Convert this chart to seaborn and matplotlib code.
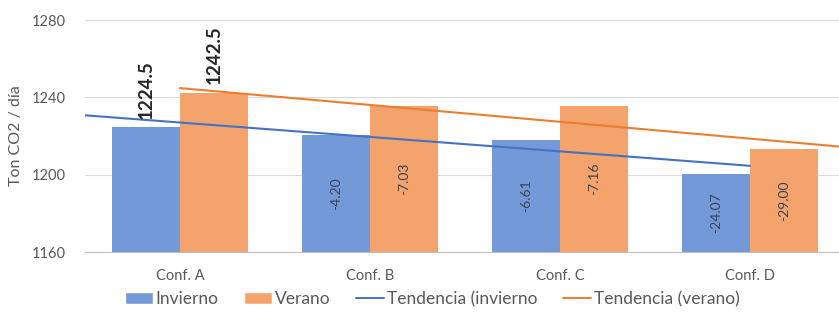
import numpy as np
import pandas as pd
import matplotlib
matplotlib.use('Agg')
import matplotlib.pyplot as plt
import seaborn as sns
from matplotlib.patches import Patch
from matplotlib.lines import Line2D

sns.set_style("white")
plt.rcParams['font.family'] = ['Lato', 'DejaVu Sans']

# data
categorias = ['Conf. A', 'Conf. B', 'Conf. C', 'Conf. D']
invierno = [1224.5, 1220.3, 1217.89, 1200.43]
verano = [1242.5, 1235.47, 1235.34, 1213.5]
etiq_invierno = ['1224.5', '-4.20', '-6.61', '-24.07']
etiq_verano = ['1242.5', '-7.03', '-7.16', '-29.00']
series = ['Invierno', 'Verano']
leyenda_tend = ['Tendencia (invierno', 'Tendencia (verano)']

col_bar = ['#7499D8', '#F4A36C']
col_line = ['#4472C4', '#ED7D31']
gris = '#595959'

df = pd.DataFrame({
    'Conf': categorias * 2,
    'Valor': invierno + verano,
    'Serie': [series[0]] * 4 + [series[1]] * 4,
})

fig = plt.figure(figsize=(8.39, 3.2), dpi=100)
ax = fig.add_axes([85 / 839, 68 / 320, 760 / 839, 232 / 320])

sns.barplot(data=df, x='Conf', y='Valor', hue='Serie', palette=col_bar,
            width=0.72, saturation=1, ax=ax, legend=False, zorder=2,
            linewidth=0, edgecolor='none')

ax.set_ylim(1160, 1280)
ax.set_xlim(-0.5, 3.5)
ax.set_yticks([1160, 1200, 1240, 1280])
ax.yaxis.grid(True, color='#d9d9d9', linewidth=0.8, zorder=0)
ax.set_axisbelow(True)
for s in ['top', 'right', 'left']:
    ax.spines[s].set_visible(False)
ax.spines['bottom'].set_color('#bfbfbf')
ax.spines['bottom'].set_zorder(3)
ax.tick_params(axis='both', length=0, colors=gris, labelsize=10.5)
ax.tick_params(axis='x', pad=12)
ax.tick_params(axis='y', pad=14)
ax.set_xlabel('')
ax.set_ylabel('Ton CO2 / día', color=gris, fontsize=11.5, labelpad=6)

# bar labels
for cont, etiq in zip(ax.containers, [etiq_invierno, etiq_verano]):
    for i, (bar, txt) in enumerate(zip(cont, etiq)):
        xc = bar.get_x() + bar.get_width() / 2
        h = bar.get_height()
        if i == 0:
            ax.text(xc, h + 4.5, txt, rotation=90, ha='center', va='bottom',
                    fontsize=13.5, fontweight='bold', color='#262626', zorder=5)
        else:
            ax.text(xc, (h + 1160) / 2, txt, rotation=90, ha='center', va='center',
                    fontsize=10, color='#3a4458', zorder=5)

# linear trend lines (Excel style)
x = np.arange(len(categorias))
for vals, col, x0, x1 in [(invierno, col_line[0], -0.5, 3.0),
                          (verano, col_line[1], 0.0, 3.5)]:
    m, b = np.polyfit(x, vals, 1)
    xx = np.array([x0, x1])
    ax.plot(xx, m * xx + b, color=col, linewidth=1.5, zorder=4)

handles = [Patch(facecolor=col_bar[0]), Patch(facecolor=col_bar[1]),
           Line2D([], [], color=col_line[0], linewidth=1.4),
           Line2D([], [], color=col_line[1], linewidth=1.4)]
fig.legend(handles, series + leyenda_tend, loc='center', bbox_to_anchor=(0.515, 0.065),
           ncol=4, frameon=False, fontsize=12.5, handlelength=1.6, handleheight=0.7,
           handletextpad=0.15, columnspacing=1.5, labelcolor=gris)

fig.savefig('out.png', dpi=100)
